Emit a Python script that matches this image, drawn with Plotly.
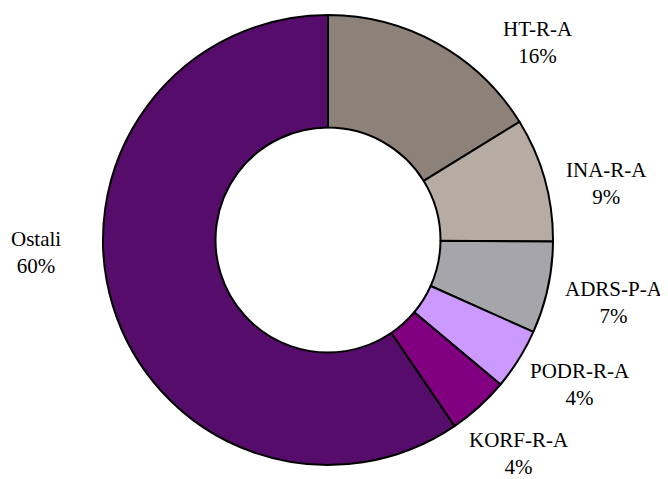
import plotly.graph_objects as go

labels = ["HT-R-A", "INA-R-A", "ADRS-P-A", "PODR-R-A", "KORF-R-A", "Ostali"]
values = [16.2, 8.9, 6.6, 4.4, 4.4, 59.5]
colors = ["#8C827A", "#B7ACA4", "#A6A6AA", "#CC99FF", "#800080", "#550C6A"]
percent_text = ["16%", "9%", "7%", "4%", "4%", "60%"]

# label anchor positions (pixels from top-left of the figure)
label_pos = [(530, 35), (598, 176), (606, 294), (572, 376), (511, 445), (28, 244)]

W, H = 668, 479

fig = go.Figure(go.Pie(
    labels=labels, values=values, hole=0.5, sort=False, direction="clockwise",
    rotation=0,
    marker=dict(colors=colors, line=dict(color="black", width=2)),
    textinfo="none", hoverinfo="label+percent",
    domain=dict(x=[95 / W, 545 / W], y=[22 / H, 472 / H]),
    showlegend=False,
))

for lab, pt, (px, py) in zip(labels, percent_text, label_pos):
    fig.add_annotation(
        x=px / W, y=1 - py / H, xref="paper", yref="paper",
        text=f"{lab}<br>{pt}", showarrow=False,
        xanchor="center", yanchor="middle", align="center",
        font=dict(family="Liberation Serif", size=21, color="black"),
    )

fig.update_layout(width=W, height=H, margin=dict(l=0, r=0, t=0, b=0),
                  paper_bgcolor="white", plot_bgcolor="white")
fig.write_html("out.html")
